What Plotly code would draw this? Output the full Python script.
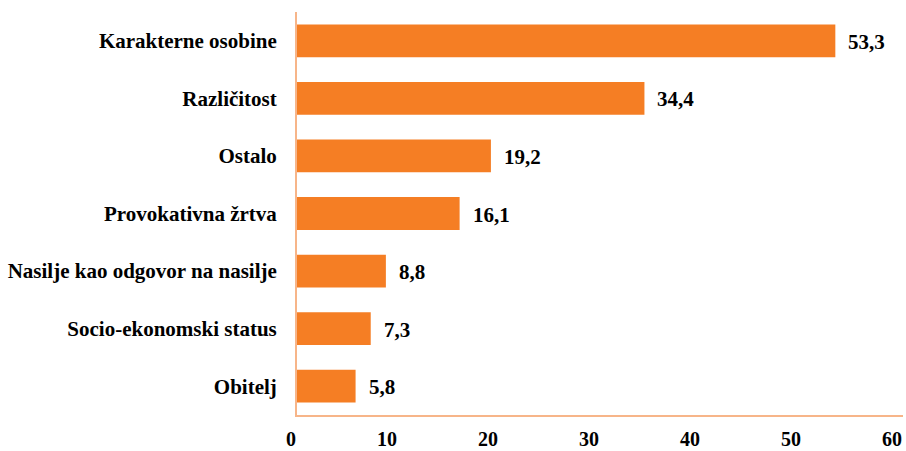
import plotly.graph_objects as go

categories = ["Karakterne osobine", "Različitost", "Ostalo", "Provokativna žrtva",
              "Nasilje kao odgovor na nasilje", "Socio-ekonomski status", "Obitelj"]
values = [53.3, 34.4, 19.2, 16.1, 8.8, 7.3, 5.8]
value_labels = ["53,3", "34,4", "19,2", "16,1", "8,8", "7,3", "5,8"]
x_ticks = [0, 10, 20, 30, 40, 50, 60]

FONT = "Liberation Serif"
BAR = "#F57E24"
AXIS = "#F7B589"

fig = go.Figure(go.Bar(
    y=categories, x=values, orientation="h",
    marker=dict(color=BAR, line=dict(width=0)),
    hoverinfo="skip",
))

for c, v, t in zip(categories, values, value_labels):
    fig.add_annotation(x=v, y=c, text=f"<b>{t}</b>", showarrow=False,
                       xanchor="left", xshift=11, yshift=-1,
                       font=dict(family=FONT, size=21, color="#000000"))

fig.update_layout(
    width=906, height=451,
    margin=dict(l=297, r=3, t=12, b=36),
    paper_bgcolor="white", plot_bgcolor="white",
    bargap=0.43,
    showlegend=False,
    font=dict(family=FONT, size=21, color="#000000"),
)
fig.update_yaxes(
    categoryorder="array", categoryarray=categories[::-1],
    showline=True, linecolor=AXIS, linewidth=2,
    ticks="", showgrid=False, zeroline=False, automargin=False,
    tickfont=dict(family=FONT, size=21, color="#000000", weight="bold"),
    ticklabelstandoff=14,
)
fig.update_xaxes(
    range=[0, 60], tickvals=x_ticks, ticktext=[f"<b>{v}</b>" for v in x_ticks],
    showline=True, linecolor=AXIS, linewidth=2,
    ticks="", showgrid=False, zeroline=False, automargin=False,
    ticklabelposition="outside left",
    tickfont=dict(family=FONT, size=20, color="#000000"),
    ticklabelstandoff=5,
)

fig.write_html("out.html", config={"displayModeBar": False},
               post_script="document.body.style.margin='0';document.body.style.overflow='hidden';")
